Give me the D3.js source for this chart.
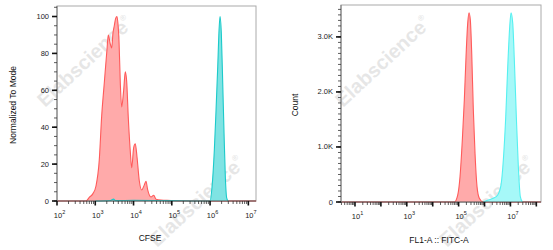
<!DOCTYPE html>
<html>

<head>
  <meta charset="utf-8">
  <script src="https://d3js.org/d3.v7.min.js"></script>
</head>
<style>
  body {
    margin: 0;
    background: #fff;
  }

  svg {
    width: 553px;
    height: 250px;
    font-family: "Liberation Sans", Arial, sans-serif;
  }

  .tick-label {
    font-size: 7.5px;
    fill: #222;
  }

  .axis-title {
    font-size: 8.5px;
    fill: #111;
  }

  .watermark {
    font-size: 20px;
    font-weight: bold;
    fill: #888;
    opacity: 0.2;
  }
</style>

<body>
  <svg id="chart"></svg>
  <script>
    // left panel: CFSE, normalized to mode (x = channel value, y = % of mode)
    const cfseRed = [
      [100, 0], [400, 0], [570, 0], [700, 2], [870, 4], [1040, 8], [1270, 22], [1470, 46], [1720, 64],
      [2020, 82], [2190, 90], [2470, 85], [2690, 83], [2900, 91], [3140, 95], [3410, 99],
      [3690, 100], [3920, 96], [4170, 87], [4510, 64], [4900, 51], [5520, 60], [6080, 70],
      [6610, 65], [7300, 45], [8220, 27], [8950, 18], [10090, 29], [11120, 31], [12300, 24],
      [14130, 11], [16330, 6], [19050, 8.6], [21130, 10.7], [23440, 6], [28580, 2.2],
      [33650, 3.1], [38640, 1], [52120, 0.5], [95500, 0.3], [173800, 0], [1e6, 0], [1.6e7, 0]
    ];
    const cfseCyan = [
      [1000, 0], [2500, 0.3], [3000, 1], [3400, 0.2], [10000, 0.4], [100000, 0.2], [500000, 0],
      [998000, 0], [1125000, 7.6], [1291000, 27.5], [1430000, 49], [1585000, 72.7],
      [1714000, 92.6], [1820000, 100], [1968000, 91], [2140000, 64], [2317000, 36.7],
      [2506000, 13], [2724000, 1.5], [2944000, 0]
    ];
    const cfseYTicks = [0, 20, 40, 60, 80, 100];

    // right panel: FL1-A :: FITC-A, counts
    const fitcRed = [
      [3, 0], [10000, 0], [68230, 0], [92260, 127], [113200, 460], [139000, 1127], [166000, 1855],
      [193200, 2640], [224500, 3250], [252200, 3440], [283000, 3310], [320600, 2700],
      [369800, 1670], [429700, 885], [513200, 280], [629500, 70], [899500, 0], [1.5e8, 0]
    ];
    const fitcCyan = [
      [899500, 0], [1403000, 36], [2188000, 67], [3236000, 127], [4335000, 310], [5320000, 764],
      [6590000, 1550], [7870000, 2460], [9400000, 3190], [10550000, 3440], [12270000, 3250],
      [14160000, 2580], [16900000, 1550], [20200000, 640], [24100000, 96], [28770000, 0]
    ];
    const fitcYTicks = [0, 1000, 2000, 3000];
    const fitcYLabels = ["0", "1.0K", "2.0K", "3.0K"];

    const svg = d3.select("#chart");

    function logTicks(lo, hi) {
      // decades and their 2..9 minor steps
      var major = [], minor = [];
      for (var e = Math.floor(Math.log10(lo)) - 1; e <= Math.ceil(Math.log10(hi)); e++) {
        var d = Math.pow(10, e);
        if (d >= lo && d <= hi) major.push(d);
        for (var k = 2; k <= 9; k++) {
          if (k * d >= lo && k * d <= hi) minor.push(k * d);
        }
      }
      return { major: major, minor: minor };
    }

    function drawPanel(opt) {
      const g = svg.append("g");
      const x = d3.scaleLog().domain(opt.xDomain).range([opt.left, opt.right]);
      const y = d3.scaleLinear().domain(opt.yDomain).range([opt.bottom, opt.top]);

      // frame
      g.append("rect")
        .attr("x", opt.left).attr("y", opt.top)
        .attr("width", opt.right - opt.left).attr("height", opt.bottom - opt.top)
        .attr("fill", "none").attr("stroke", "#aaa").attr("stroke-width", 1);

      // watermarks
      opt.marks.forEach(function (m) {
        const t = g.append("text")
          .attr("class", "watermark")
          .attr("transform", "translate(" + m[0] + "," + m[1] + ") rotate(-43)")
          .text("Elabscience");
        t.append("tspan").attr("dy", -10).attr("font-size", "8px").text("®");
      });

      // histograms
      opt.series.forEach(function (s) {
        const area = d3.area()
          .x(function (d) { return x(d[0]); })
          .y0(y(0))
          .y1(function (d) { return y(d[1]); })
          .curve(d3.curveMonotoneX);
        const line = d3.line()
          .x(function (d) { return x(d[0]); })
          .y(function (d) { return y(d[1]); })
          .curve(d3.curveMonotoneX);
        g.append("path").attr("d", area(s.data)).attr("fill", s.fill).attr("stroke", "none");
        g.append("path").attr("d", line(s.data)).attr("fill", "none")
          .attr("stroke", s.stroke).attr("stroke-width", 1.1);
      });

      // axes lines
      g.append("line").attr("x1", opt.left).attr("x2", opt.right)
        .attr("y1", opt.bottom).attr("y2", opt.bottom).attr("stroke", "#555");
      g.append("line").attr("x1", opt.left).attr("x2", opt.left)
        .attr("y1", opt.top).attr("y2", opt.bottom).attr("stroke", "#777");

      // x ticks
      const lt = logTicks(opt.xDomain[0], opt.xDomain[1]);
      lt.minor.forEach(function (v) {
        g.append("line").attr("x1", x(v)).attr("x2", x(v))
          .attr("y1", opt.bottom).attr("y2", opt.bottom + 3).attr("stroke", "#333").attr("stroke-width", 0.8);
      });
      lt.major.forEach(function (v) {
        g.append("line").attr("x1", x(v)).attr("x2", x(v))
          .attr("y1", opt.bottom).attr("y2", opt.bottom + 4.5).attr("stroke", "#111").attr("stroke-width", 1.6);
        const e = Math.round(Math.log10(v));
        if (opt.xLabelled.indexOf(e) < 0) return;
        const t = g.append("text").attr("class", "tick-label")
          .attr("x", x(v) + 2.5).attr("y", opt.bottom + 16.5).attr("text-anchor", "middle");
        t.append("tspan").text("10");
        t.append("tspan").attr("dy", -3.5).attr("font-size", "5.5px").text(e);
      });

      // y ticks
      d3.range(opt.yDomain[0], opt.yDomain[1], opt.yMinor).forEach(function (v) {
        g.append("line").attr("x1", opt.left - 3).attr("x2", opt.left)
          .attr("y1", y(v)).attr("y2", y(v)).attr("stroke", "#333").attr("stroke-width", 0.8);
      });
      opt.yTicks.forEach(function (v, i) {
        g.append("line").attr("x1", opt.left - 5).attr("x2", opt.left)
          .attr("y1", y(v)).attr("y2", y(v)).attr("stroke", "#111").attr("stroke-width", 1.6);
        g.append("text").attr("class", "tick-label")
          .attr("x", opt.left - 8).attr("y", y(v) + 2.5).attr("text-anchor", "end")
          .text(opt.yLabels[i]);
      });

      // titles
      g.append("text").attr("class", "axis-title")
        .attr("x", opt.xTitlePos[0]).attr("y", opt.xTitlePos[1]).attr("text-anchor", "middle")
        .text(opt.xTitle);
      g.append("text").attr("class", "axis-title")
        .attr("transform", "translate(" + opt.yTitlePos[0] + "," + opt.yTitlePos[1] + ") rotate(-90)")
        .attr("text-anchor", "middle")
        .text(opt.yTitle);
    }

    drawPanel({
      left: 57, right: 256, top: 6, bottom: 201,
      xDomain: [100, Math.pow(10, 7.2)],
      yDomain: [0, 105.7],
      xLabelled: [2, 3, 4, 5, 6, 7],
      yTicks: cfseYTicks, yLabels: cfseYTicks.map(String), yMinor: 5,
      xTitle: "CFSE", xTitlePos: [150, 241],
      yTitle: "Normalized To Mode", yTitlePos: [16, 105],
      marks: [[45, 108], [157, 248]],
      series: [
        { data: cfseRed, fill: "#ffaaaa", stroke: "#ff5a5a" },
        { data: cfseCyan, fill: "#7fe3e3", stroke: "#1ccaca" }
      ]
    });

    drawPanel({
      left: 341, right: 541, top: 5, bottom: 202,
      xDomain: [Math.pow(10, 0.46), Math.pow(10, 8.18)],
      yDomain: [0, 3580],
      xLabelled: [1, 3, 5, 7],
      yTicks: fitcYTicks, yLabels: fitcYLabels, yMinor: 100,
      xTitle: "FL1-A :: FITC-A", xTitlePos: [439, 243],
      yTitle: "Count", yTitlePos: [298, 105],
      marks: [[343, 108], [447, 248]],
      series: [
        { data: fitcRed, fill: "#ffaaaa", stroke: "#ff5a5a" },
        { data: fitcCyan, fill: "#a6f8f8", stroke: "#55f0f0" }
      ]
    });
  </script>
</body>

</html>
